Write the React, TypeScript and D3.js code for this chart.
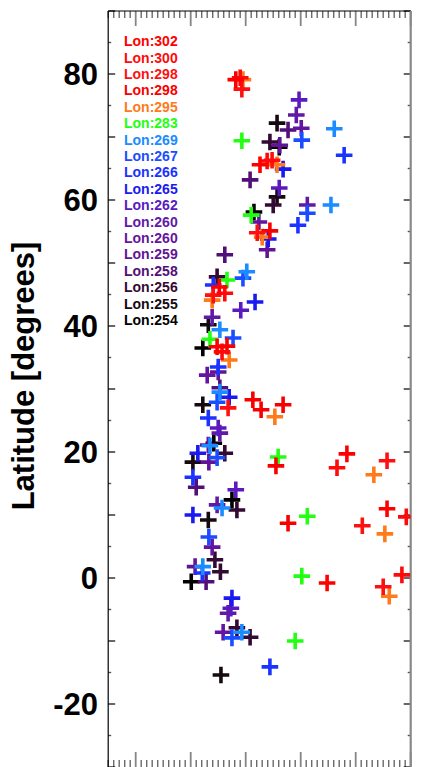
import React from 'react';
import * as d3 from 'd3';

const W = 434;
const H = 767;

// Legend entries, top to bottom
const lonLabels = [
  'Lon:302', 'Lon:300', 'Lon:298', 'Lon:298', 'Lon:295', 'Lon:283',
  'Lon:269', 'Lon:267', 'Lon:266', 'Lon:265', 'Lon:262', 'Lon:260',
  'Lon:260', 'Lon:259', 'Lon:258', 'Lon:256', 'Lon:255', 'Lon:254',
];

const lonColors = [
  '#ff0000', '#ff0a0a', '#ff1010', '#f80000', '#ff7a1a', '#22ff11',
  '#1a8cff', '#1a4dff', '#1a33ff', '#1a1af0', '#5a1ac0', '#601aa8',
  '#6414a0', '#621496', '#520f7a', '#320a32', '#140a10', '#000000',
];

// [x, latitude] per longitude
const lon302: [number, number][] = [[18.2, 79.1], [22.6, 65.6], [15.2, 46.2], [14.8, 36.7], [38.4, 19.7], [45.7, 11.0], [34.8, -0.8]];
const lon300: [number, number][] = [[19.0, 79.4], [23.9, 66.2], [16.2, 45.2], [15.7, 35.9], [36.6, 17.5], [49.2, 9.7], [48.4, 0.5]];
const lon298a: [number, number][] = [[19.3, 77.6], [22.1, 54.8], [14.1, 44.9], [16.8, 27.0], [45.7, 18.6], [41.2, 8.3], [45.0, -1.4], [24.8, 66.3]];
const lon298b: [number, number][] = [[24.4, 55.1], [21.3, 28.3], [22.8, 26.7], [26.8, 27.5], [25.5, 17.8], [27.7, 8.7], [16.6, 36.8]];
const lon295: [number, number][] = [[19.5, 79.1], [25.7, 65.6], [23.0, 54.1], [13.9, 44.1], [17.0, 34.6], [25.3, 25.6], [43.3, 16.4], [45.3, 7.0], [46.1, -2.9]];
const lon283: [number, number][] = [[19.3, 69.4], [21.0, 57.6], [16.6, 47.3], [13.5, 37.9], [25.9, 19.2], [31.2, 9.8], [30.2, 0.3], [29.0, -10.0]];
const lon269: [number, number][] = [[36.1, 71.3], [35.5, 59.2], [20.2, 48.6], [15.3, 39.4], [15.3, 29.5], [13.5, 21.0], [15.7, 11.1], [12.2, 1.8], [19.3, -8.6]];
const lon267: [number, number][] = [[30.2, 69.5], [31.2, 57.9], [19.5, 47.6], [17.7, 38.1], [14.8, 27.9], [14.8, 19.1], [13.3, 6.5], [17.5, -9.5]];
const lon266: [number, number][] = [[37.9, 67.1], [29.5, 56.0], [14.1, 46.5], [15.0, 33.5], [13.2, 25.4], [10.4, 16.0], [12.1, 0.8], [24.4, -14.1]];
const lon265: [number, number][] = [[26.8, 64.9], [24.1, 53.8], [21.7, 43.8], [17.0, 28.7], [11.3, 19.8], [10.4, 10.0], [17.5, -3.2]];
const lon262: [number, number][] = [[29.7, 75.9], [26.1, 61.9], [19.1, 42.5], [15.0, 23.8], [18.2, 14.0], [17.3, -4.8]];
const lon260a: [number, number][] = [[29.2, 73.5], [31.2, 59.2], [13.9, 41.4], [15.3, 23.0], [14.8, 11.6], [16.8, -5.6]];
const lon260b: [number, number][] = [[30.1, 71.4], [22.4, 56.5], [13.0, 32.2], [13.2, 21.1], [13.9, 4.9], [15.9, -8.6]];
const lon259: [number, number][] = [[26.2, 68.7], [23.9, 52.1], [15.0, 32.7], [13.3, 18.4], [10.8, 1.8]];
const lon258: [number, number][] = [[20.8, 63.2], [16.2, 51.3], [15.3, 30.2], [11.0, 14.4], [12.8, -0.6], [27.7, 71.1]];
const lon256: [number, number][] = [[24.4, 69.2], [25.0, 59.2], [14.8, 47.8], [16.2, 19.8], [18.4, 10.8], [14.4, 2.9], [15.4, 1.0], [18.4, -7.9], [20.8, -9.4]];
const lon255: [number, number][] = [[25.7, 72.2], [25.7, 60.5], [13.2, 40.2], [12.2, 27.5], [10.4, 18.4], [13.2, 9.2], [15.5, -15.4]];
const lon254: [number, number][] = [[26.1, 68.4], [21.5, 58.1], [12.2, 36.5], [14.2, 21.4], [17.5, 12.4], [10.1, -0.6]];

const seriesPoints = [
  lon302, lon300, lon298a, lon298b, lon295, lon283, lon269, lon267, lon266,
  lon265, lon262, lon260a, lon260b, lon259, lon258, lon256, lon255, lon254,
];

const yTickLabels = [-20, 0, 20, 40, 60, 80];

const FONT = '"Liberation Sans", Arial, Helvetica, sans-serif';

export default function App() {
  const left = 108.2;
  const right = 410.7;
  const top = 11;
  const bottom = 767;

  const x = d3.scaleLinear().domain([-5, 50]).range([left, right]);
  const y = d3.scaleLinear().domain([-30, 90]).range([bottom, top]);

  const yMinor = d3.range(-30, 90.001, 5);
  const xMinor = d3.range(-5, 50.001, 1);

  const arm = 8.3;
  const cross = (px: number, py: number) =>
    `M${px - arm},${py}H${px + arm}M${px},${py - arm}V${py + arm}`;

  // western longitudes are drawn first, eastern ones end up on top
  const drawOrder = d3.range(seriesPoints.length).reverse();

  return (
    <svg
      width={W}
      height={H}
      style={{ position: 'absolute', left: 0, top: 0, background: '#fff' }}
      fontFamily={FONT}
    >
      <defs>
        <clipPath id="plotClip">
          <rect x={left} y={top} width={right - left} height={bottom - top} />
        </clipPath>
      </defs>
      <rect x={0} y={0} width={W} height={H} fill="#fff" />

      {/* x ticks on top and bottom */}
      {xMinor.map((v) => {
        const major = Math.round(v) % 10 === 0;
        const len = major ? 15 : 7;
        const px = x(v);
        return (
          <g key={`xt${v}`} stroke={major ? '#858585' : '#6a6a6a'} strokeWidth={major ? 1.8 : 1.4}>
            <line x1={px} x2={px} y1={top} y2={top + len} />
            <line x1={px} x2={px} y1={bottom} y2={bottom - len} />
          </g>
        );
      })}

      {/* y ticks on left and right */}
      {yMinor.map((v) => {
        const major = Math.round(v) % 10 === 0;
        const len = major ? 7 : 3;
        const py = y(v);
        return (
          <g key={`yt${v}`} stroke={major ? '#000' : '#555'} strokeWidth={major ? 1.2 : 1.4}>
            <line x1={left} x2={left + len} y1={py} y2={py} />
            <line x1={right} x2={right - len} y1={py} y2={py} />
          </g>
        );
      })}

      {/* frame */}
      <line x1={left} x2={right} y1={top} y2={top} stroke="#000" strokeWidth={1.2} />
      <line x1={left} x2={left} y1={top} y2={bottom} stroke="#000" strokeWidth={1.2} />
      <line x1={right} x2={right} y1={top} y2={bottom} stroke="#888" strokeWidth={2.2} />

      {/* y tick labels */}
      {yTickLabels.map((v) => (
        <text
          key={`yl${v}`}
          x={98}
          y={y(v) + 11.2}
          textAnchor="end"
          fontSize={31}
          fontWeight="bold"
          fill="#000"
        >
          {v}
        </text>
      ))}

      <text
        transform="translate(33.5,376) rotate(-90)"
        textAnchor="middle"
        fontSize={31}
        fontWeight="bold"
        fill="#000"
      >
        Latitude [degrees]
      </text>

      {/* data crosses */}
      <g clipPath="url(#plotClip)" fill="none" strokeWidth={3.6}>
        {drawOrder.map((i) => (
          <g key={`s${i}`} stroke={lonColors[i]}>
            {seriesPoints[i].map(([vx, vy], j) => (
              <path key={j} d={cross(x(vx), y(vy))} />
            ))}
          </g>
        ))}
      </g>

      {/* legend */}
      {lonLabels.map((lab, i) => (
        <text
          key={`lg${i}`}
          x={124}
          y={46.2 + i * 16.4}
          fontSize={14}
          fontWeight="bold"
          fill={lonColors[i]}
        >
          {lab}
        </text>
      ))}
    </svg>
  );
}
